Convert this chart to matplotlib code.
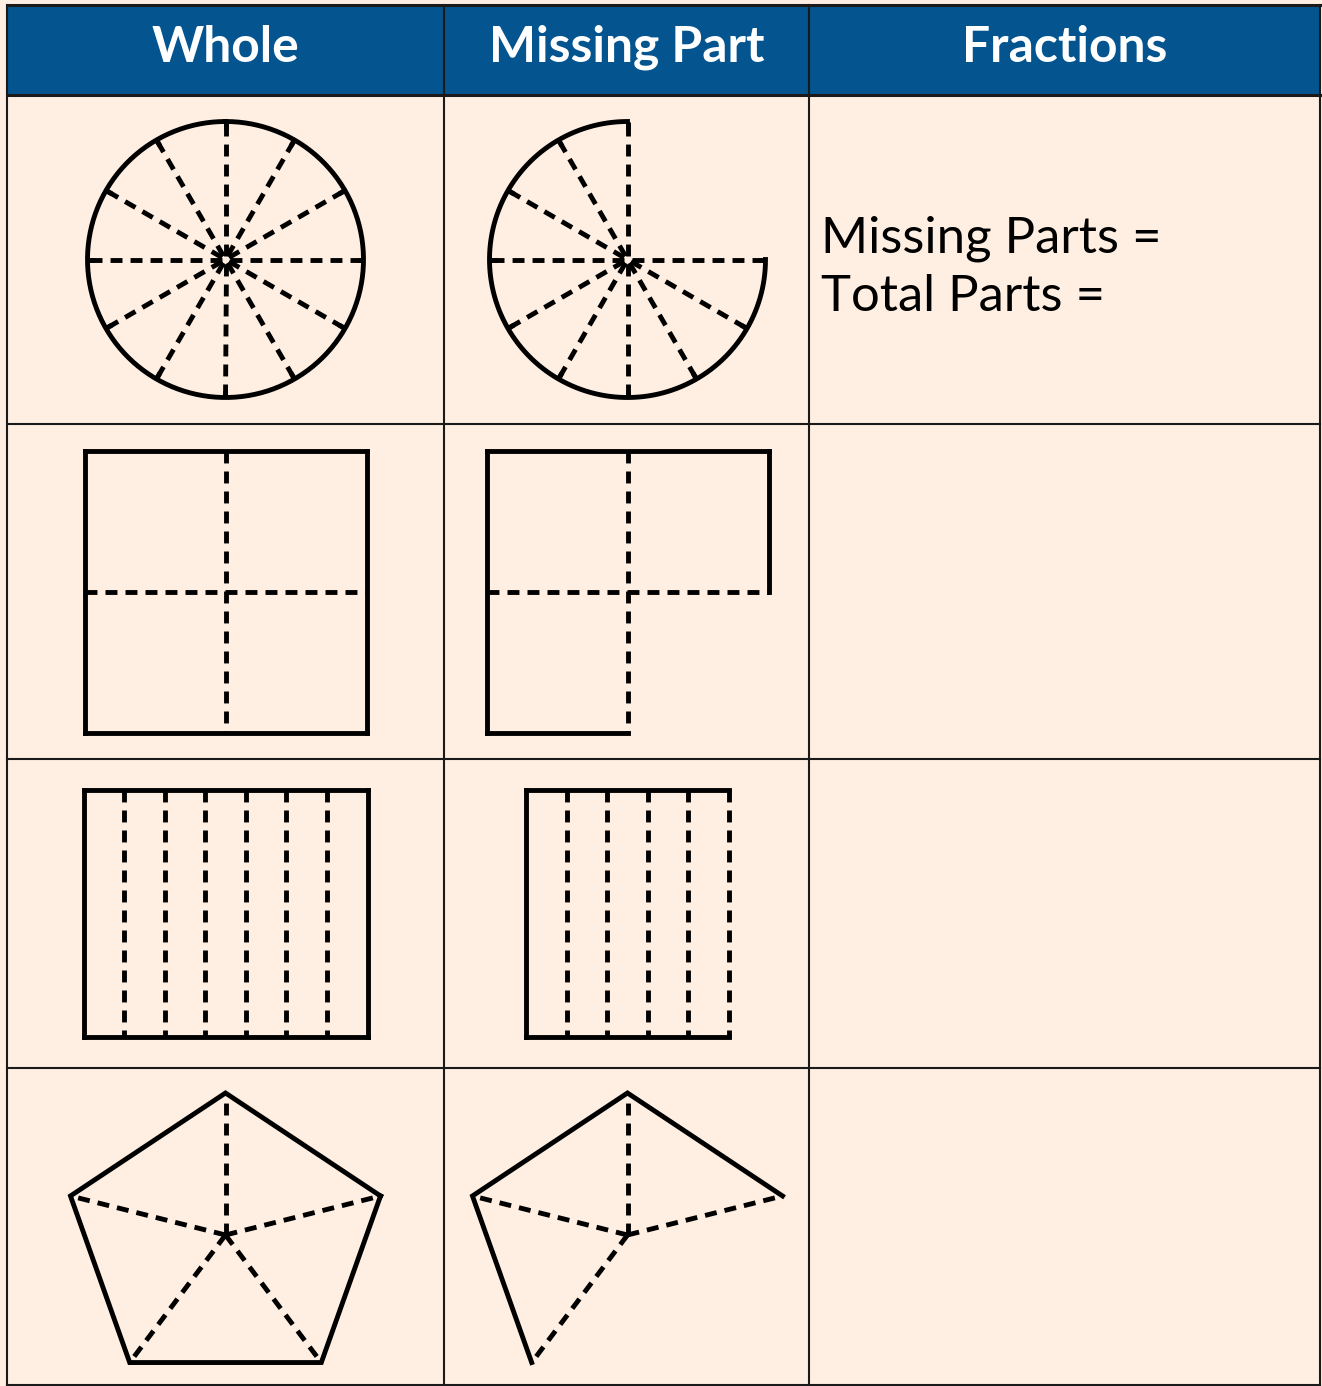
import numpy as np
import matplotlib.pyplot as plt

# -------------------------
# Data
# -------------------------
headers = ["Whole", "Missing Part", "Fractions"]
shape_kinds = ["circle", "square", "strips", "pentagon"]
total_parts = [12, 4, 7, 5]
missing_parts = [3, 1, 2, 2]
fraction_lines = ["Missing Parts =", "Total Parts ="]

# -------------------------
# Layout / style (pixel coordinates, y down)
# -------------------------
W, H = 1322, 1386
col_edges = [7, 444, 809, 1320]
row_edges = [5, 95, 424, 759, 1068, 1385]
col_mid = [(col_edges[i] + col_edges[i + 1]) / 2 for i in range(3)]

BLUE = "#03548F"
PEACH = "#FFEFE2"
LW = 3.5
DASH = (0, (8.6, 5.8))

plt.rcParams["lines.scale_dashes"] = False
plt.rcParams["font.family"] = ["Lato", "DejaVu Sans"]

fig = plt.figure(figsize=(W / 100, H / 100), dpi=100, facecolor=PEACH)
ax = fig.add_axes([0, 0, 1, 1])
ax.set_xlim(0, W)
ax.set_ylim(H, 0)
ax.axis("off")
ax.set_facecolor(PEACH)


def solid(xs, ys):
    ax.plot(xs, ys, color="black", lw=LW, solid_capstyle="projecting",
            solid_joinstyle="miter")


def dashed(x0, y0, x1, y1):
    ax.plot([x0, x1], [y0, y1], color="black", lw=LW, linestyle=DASH,
            dash_capstyle="butt")


def draw_circle(cx, cy, n, miss, r=138, a0=90):
    step = 360 / n
    keep = n - miss
    a1 = a0 + keep * step
    t = np.radians(np.linspace(a0, a1, 400))
    solid(cx + r * np.cos(t), cy - r * np.sin(t))
    k_max = keep if miss == 0 else keep + 1
    for k in range(k_max):
        a = np.radians(a0 + k * step)
        c, s = np.cos(a), -np.sin(a)
        dashed(cx + 4 * c, cy + 4 * s, cx + r * c, cy + r * s)
        ax.plot([cx + (r - 7) * c, cx + r * c], [cy + (r - 7) * s, cy + r * s],
                color="black", lw=LW, solid_capstyle="butt")


def draw_grid(cx, cy, w, h, nx, ny, miss):
    kept = np.ones((ny, nx), bool)
    flat = kept.reshape(-1)
    if miss:
        flat[-miss:] = False
    cw, ch = w / nx, h / ny
    cols = np.where(kept.any(axis=0))[0]
    rows = np.where(kept.any(axis=1))[0]
    # centre the part that is kept
    kx0 = cx - (cols.max() - cols.min() + 1) * cw / 2 - cols.min() * cw
    ky0 = cy - (rows.max() - rows.min() + 1) * ch / 2 - rows.min() * ch

    def runs(styles, starts, fixed, horiz, size):
        i = 0
        while i < len(styles):
            st = styles[i]
            j = i
            while j + 1 < len(styles) and styles[j + 1] == st:
                j += 1
            if st is not None:
                a, b = starts + i * size, starts + (j + 1) * size
                if horiz:
                    pts = ([a, b], [fixed, fixed])
                else:
                    pts = ([fixed, fixed], [a, b])
                if st == "solid":
                    solid(*pts)
                else:
                    dashed(pts[0][0], pts[1][0], pts[0][1], pts[1][1])
            i = j + 1

    for j in range(ny + 1):
        styles = []
        for i in range(nx):
            above = j > 0 and kept[j - 1, i]
            below = j < ny and kept[j, i]
            if not (above or below):
                styles.append(None)
            elif j == 0 or j == ny:
                styles.append("solid")
            else:
                styles.append("dash")
        runs(styles, kx0, ky0 + j * ch, True, cw)
    for i in range(nx + 1):
        styles = []
        for j in range(ny):
            left = i > 0 and kept[j, i - 1]
            right = i < nx and kept[j, i]
            if not (left or right):
                styles.append(None)
            elif i == 0 or i == nx:
                styles.append("solid")
            else:
                styles.append("dash")
        runs(styles, ky0, kx0 + i * cw, False, ch)


def draw_pentagon(cx, cy, n, miss, sx=163, sy=149, hub_dy=-7, a0=18):
    step = 360 / n
    keep = n - miss
    k_max = n + 1 if miss == 0 else keep + 1
    angs = np.radians(a0 + step * np.arange(k_max))
    xs = cx + sx * np.cos(angs)
    ys = cy - sy * np.sin(angs)
    solid(xs, ys)
    hx, hy = cx, cy + hub_dy
    m = keep + 1 if miss else n
    for x, y in zip(xs[:m], ys[:m]):
        dashed(hx, hy, x, y)


# -------------------------
# Table
# -------------------------
ax.fill_between([col_edges[0], col_edges[-1]], row_edges[0], row_edges[1],
                color=BLUE, lw=0)
for y in row_edges:
    ax.plot([col_edges[0], col_edges[-1]], [y, y], color="#1a1a1a",
            lw=2.2 if y <= row_edges[1] else 1.5)
for x in col_edges:
    ax.plot([x, x], [row_edges[0], row_edges[-1]], color="#1a1a1a", lw=1.5)

for x, label in zip(col_mid, headers):
    ax.text(x, 62, label, color="white", fontsize=35.8, fontweight="bold",
            ha="center", va="baseline")

for k, line in enumerate(fraction_lines):
    ax.text(821, 253 + 58 * k, line, color="black", fontsize=36.6,
            ha="left", va="baseline")

# -------------------------
# Shapes
# -------------------------
row_mid = [(row_edges[i] + row_edges[i + 1]) / 2 for i in range(1, 5)]
for r, kind in enumerate(shape_kinds):
    n = total_parts[r]
    for c, miss in enumerate([0, missing_parts[r]]):
        cx = col_mid[c] + (1 if c == 1 else 0)
        cy = row_mid[r]
        if kind == "circle":
            draw_circle(cx, cy, n, miss)
        elif kind == "square":
            draw_grid(cx, cy + 0.5, 282, 282, 2, 2, miss)
        elif kind == "strips":
            draw_grid(cx, cy, 284, 247, n, 1, miss)
        else:
            draw_pentagon(cx, 1242, n, miss)

fig.savefig("out.png", dpi=100, facecolor=PEACH)
